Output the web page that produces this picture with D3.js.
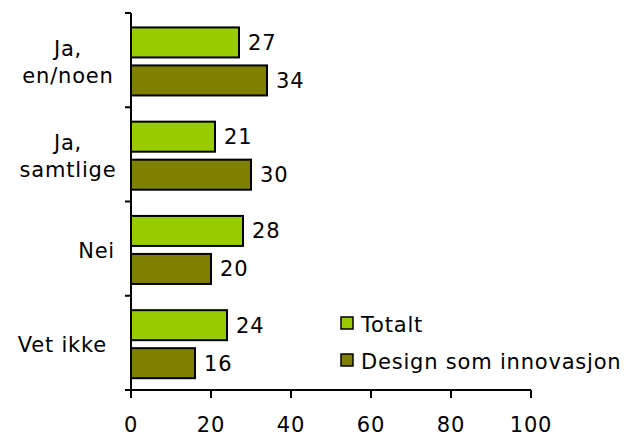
<!DOCTYPE html>
<html><head><meta charset="utf-8">
<script src="https://cdn.jsdelivr.net/npm/d3@7"></script>
<style>
html,body{margin:0;padding:0;background:#fff;}
text{font-family:"DejaVu Sans",Verdana,sans-serif;fill:#000;}
</style></head>
<body>
<svg id="chart" width="627" height="437"></svg>
<script>
const categories = [["Ja,","en/noen"],["Ja,","samtlige"],["Nei"],["Vet ikke"]];
const seriesNames = ["Totalt","Design som innovasjon"];
const totalt = [27,21,28,24];
const design = [34,30,20,16];
const xTicks = [0,20,40,60,80,100];
const colors = ["#99CC00","#808000"];

const svg = d3.select("#chart");
const fs = 21, ls = 0.8;
const catKeys = categories.map(c=>c.join(" "));
const x = d3.scaleLinear().domain([0,100]).range([131,531]);
const y = d3.scaleBand().domain(catKeys).range([13,390]).paddingInner(0).paddingOuter(0);
const y1 = d3.scaleBand().domain(seriesNames).range([0,y.bandwidth()]).paddingInner(0.21).paddingOuter(0.345).align(0.55);

const data = catKeys.map((k,i)=>({k, vals:[totalt[i],design[i]]}));

// bars
const g = svg.append("g");
data.forEach(d=>{
  d.vals.forEach((v,si)=>{
    g.append("rect")
      .attr("x",x(0)).attr("y",y(d.k)+y1(seriesNames[si]))
      .attr("width",x(v)-x(0)).attr("height",y1.bandwidth())
      .attr("fill",colors[si]).attr("stroke","#000").attr("stroke-width",2);
    g.append("text")
      .attr("x",x(v)+9).attr("y",y(d.k)+y1(seriesNames[si])+y1.bandwidth()/2)
      .attr("dy","0.36em")
      .style("font-size",fs+"px").style("letter-spacing",ls+"px")
      .text(v);
  });
});

// y axis
const ya = svg.append("g");
ya.append("line").attr("x1",x(0)).attr("x2",x(0)).attr("y1",13).attr("y2",390).attr("stroke","#000").attr("stroke-width",2);
const bounds = catKeys.map(k=>y(k)).concat([390]);
bounds.forEach(b=>{
  ya.append("line").attr("x1",x(0)-6).attr("x2",x(0)).attr("y1",b).attr("y2",b).attr("stroke","#000").attr("stroke-width",2);
});
categories.forEach((lines,i)=>{
  const c = y(catKeys[i]) + y.bandwidth()/2;
  const t = ya.append("text").style("font-size",fs+"px").style("letter-spacing",ls+"px");
  if(lines.length===1){
    t.attr("x",lines[0]==="Nei"?115:107).attr("y",c+9).attr("text-anchor","end").text(lines[0]);
  } else {
    lines.forEach((ln,j)=>{
      t.append("tspan").attr("x",68).attr("y",c-4+j*26.5).attr("text-anchor","middle").text(ln);
    });
  }
});

// x axis
const xa = svg.append("g").attr("transform","translate(0,390)");
xa.append("line").attr("x1",x(0)-6).attr("x2",x(100)).attr("y1",0).attr("y2",0).attr("stroke","#000").attr("stroke-width",2);
xTicks.forEach(v=>{
  xa.append("line").attr("x1",x(v)).attr("x2",x(v)).attr("y1",0).attr("y2",8).attr("stroke","#000").attr("stroke-width",2);
  xa.append("text").attr("x",x(v)).attr("y",42).attr("text-anchor","middle")
    .style("font-size",fs+"px").style("letter-spacing",ls+"px").text(v);
});

// legend
const lg = svg.append("g");
seriesNames.forEach((s,i)=>{
  const ly = 317 + i*37;
  lg.append("rect").attr("x",341).attr("y",ly).attr("width",12).attr("height",12)
    .attr("fill",colors[i]).attr("stroke","#000").attr("stroke-width",1.5);
  lg.append("text").attr("x",361).attr("y",ly+14.5)
    .style("font-size",fs+"px").style("letter-spacing",ls+"px").text(s);
});
</script>
</body></html>
